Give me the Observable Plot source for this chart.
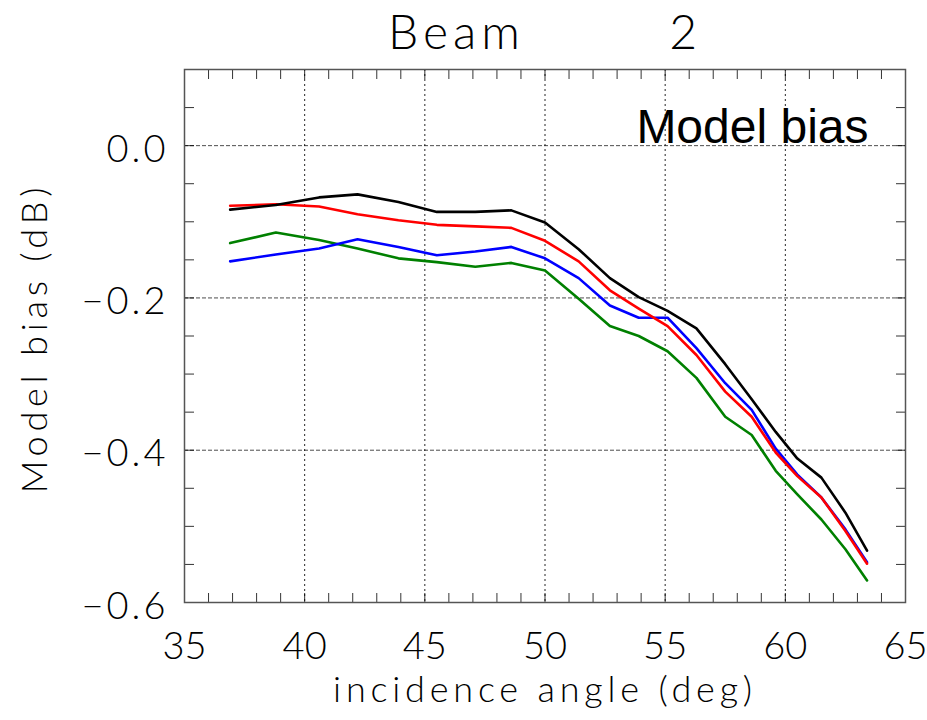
<!DOCTYPE html>
<html><head><meta charset="utf-8">
<script src="https://cdn.jsdelivr.net/npm/d3@7"></script>
<script src="https://cdn.jsdelivr.net/npm/@observablehq/plot@0.6"></script>
<style>
body{margin:0;background:#fff}
svg text{white-space:pre}
</style>
</head><body><div id="chart"></div>
<script>
// incidence angles (deg) of the curve vertices
const angle = [36.9, 38.8, 40.6, 42.2, 43.9, 45.5, 47.1, 48.6, 50.0, 51.4, 52.7, 53.9, 55.1, 56.3, 57.5, 58.6, 59.6, 60.5, 61.5, 62.5, 63.4];
// model bias (dB) per curve
const blackBias = [-0.084, -0.078, -0.068, -0.064, -0.074, -0.087, -0.087, -0.085, -0.101, -0.136, -0.174, -0.199, -0.217, -0.240, -0.287, -0.333, -0.376, -0.411, -0.436, -0.482, -0.532];
const redBias   = [-0.079, -0.077, -0.080, -0.090, -0.098, -0.104, -0.106, -0.108, -0.125, -0.152, -0.190, -0.214, -0.237, -0.275, -0.323, -0.356, -0.403, -0.434, -0.462, -0.506, -0.549];
const blueBias  = [-0.152, -0.143, -0.135, -0.123, -0.133, -0.144, -0.139, -0.133, -0.148, -0.174, -0.210, -0.226, -0.226, -0.266, -0.312, -0.347, -0.398, -0.432, -0.462, -0.504, -0.547];
const greenBias = [-0.128, -0.114, -0.124, -0.135, -0.148, -0.153, -0.159, -0.154, -0.164, -0.201, -0.237, -0.250, -0.270, -0.305, -0.356, -0.380, -0.427, -0.458, -0.491, -0.530, -0.571];
const seriesNames = ["green", "blue", "red", "black"];
const seriesColors = ["#1a8a1a", "#0000ff", "#ff0000", "#000000"];
const xMajor = [35, 40, 45, 50, 55, 60, 65];
const xGrid = [40, 45, 50, 55, 60];
const yMajor = [0.0, -0.2, -0.4, -0.6];
const yGrid = [0.0, -0.2, -0.4];
const xMinor = d3.range(35, 66, 1);
const yMinor = d3.range(-0.6, 0.1001, 0.05).map(v => +v.toFixed(2));
const titleText = "Beam        2";
const xLabel = "incidence angle (deg)";
const yLabel = "Model bias (dB)";
const insideLabel = "Model bias";

const allSeries = [greenBias, blueBias, redBias, blackBias];
const data = [];
allSeries.forEach((vals, i) => vals.forEach((v, j) => data.push({angle: angle[j], bias: v, series: seriesNames[i]})));

const font = "Lato";
const fmt = d3.format(".1f");
const noLabel = () => "";

const chart = Plot.plot({
  width: 927,
  height: 720,
  marginLeft: 184,
  marginRight: 22,
  marginTop: 69,
  marginBottom: 118,
  style: {fontFamily: font, fontWeight: 300, background: "#fff", color: "#000"},
  x: {domain: [35, 65]},
  y: {domain: [-0.6, 0.1]},
  color: {domain: seriesNames, range: seriesColors},
  marks: [
    Plot.ruleX(xGrid, {stroke: "#000", strokeWidth: 1, strokeDasharray: "2,3", strokeOpacity: 0.85}),
    Plot.ruleY(yGrid, {stroke: "#000", strokeWidth: 1, strokeDasharray: "4,2", strokeOpacity: 0.7}),
    Plot.axisX({anchor: "bottom", ticks: xMinor, tickSize: -9, tickFormat: noLabel, label: null, strokeOpacity: 0.8}),
    Plot.axisX({anchor: "top", ticks: xMinor, tickSize: -9, tickFormat: noLabel, label: null, strokeOpacity: 0.8}),
    Plot.axisY({anchor: "left", ticks: yMinor, tickSize: -10, tickFormat: noLabel, label: null, strokeOpacity: 0.8}),
    Plot.axisY({anchor: "right", ticks: yMinor, tickSize: -10, tickFormat: noLabel, label: null, strokeOpacity: 0.8}),
    Plot.axisX({anchor: "bottom", ticks: xMajor, tickSize: 0, tickPadding: 30, fontSize: 38, label: null, fontWeight: 300}),
    Plot.axisY({anchor: "left", ticks: yMajor, tickSize: 0, tickPadding: 16, dy: 4, fontSize: 38, label: null, tickFormat: fmt, fontWeight: 300}),
    Plot.frame({stroke: "#555", strokeWidth: 1.5}),
    Plot.line(data, {x: "angle", y: "bias", z: "series", stroke: "series", strokeWidth: 2.6}),
    Plot.text([insideLabel], {frameAnchor: "top-right", dx: -37, dy: 58, lineAnchor: "middle", textAnchor: "end", fontSize: 48, fontFamily: "Liberation Sans", fontWeight: 400, fill: "#000"}),
    Plot.text([titleText], {frameAnchor: "top", dy: -36, lineAnchor: "middle", textAnchor: "middle", fontSize: 48, fontWeight: 300, fill: "#000"}),
    Plot.text([xLabel], {frameAnchor: "bottom", dy: 88, lineAnchor: "middle", textAnchor: "middle", fontSize: 36, fontWeight: 300, fill: "#000"}),
    Plot.text([yLabel], {frameAnchor: "left", dx: -149, dy: 2, rotate: -90, lineAnchor: "middle", textAnchor: "middle", fontSize: 36, fontWeight: 300, fill: "#000"})
  ]
});
// wider letter spacing to mimic the plotting font
d3.select(chart).selectAll("text").each(function() {
  const t = this.textContent;
  if (t === xLabel || t === yLabel) this.style.letterSpacing = "4.8px";
  else if (t === titleText) this.style.letterSpacing = "5px";
  else if (yMajor.map(fmt).includes(t)) this.style.letterSpacing = "3px";
});
document.getElementById("chart").append(chart);
</script>
</body></html>
